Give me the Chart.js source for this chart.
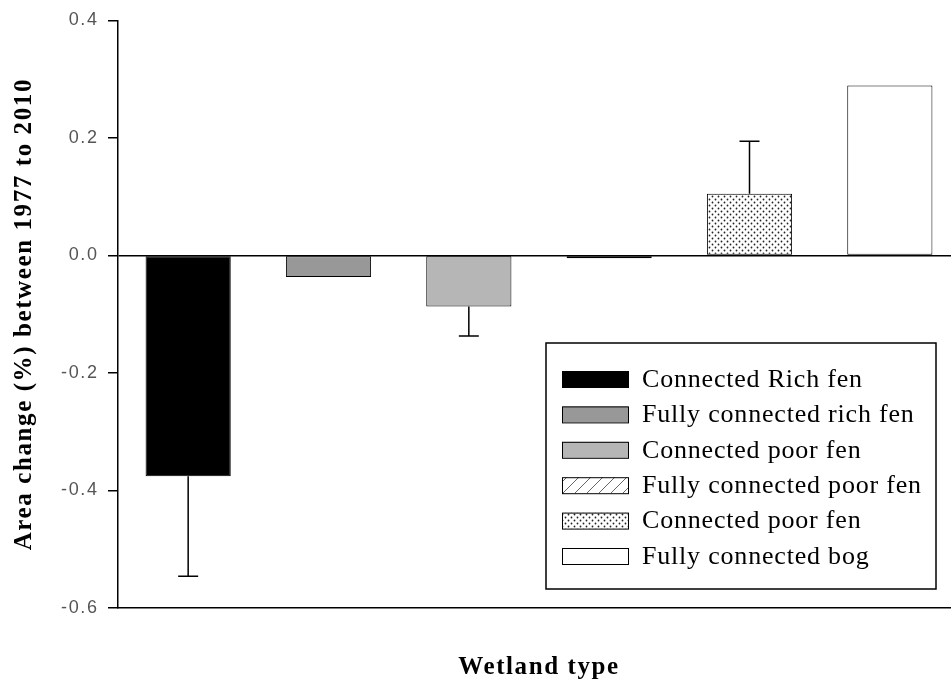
<!DOCTYPE html>
<html>
<head>
<meta charset="utf-8">
<script src="https://cdn.jsdelivr.net/npm/chart.js@4.4.0/dist/chart.umd.min.js"></script>
<style>
    html, body { margin: 0; padding: 0; background: #fff; overflow: hidden; }
    #wrap { width: 951px; height: 685px; overflow: hidden; position: relative; }
    #wrap canvas { position: absolute; left: 0; top: 0; }
</style>
</head>
<body>
<div id="wrap"><canvas id="wetlandChart" width="962" height="685"></canvas></div>
<script>
// data
const wetlandTypes = ['Connected Rich fen', 'Fully connected rich fen', 'Connected poor fen',
    'Fully connected poor fen', 'Connected poor fen', 'Fully connected bog'];
const areaChange = [-0.376, -0.037, -0.087, -0.005, 0.105, 0.289];
const areaError = [0.17, 0, 0.05, 0, 0.089, 0];
const yTicks = [-0.6, -0.4, -0.2, 0.0, 0.2, 0.4];

// fill patterns for the hatched and dotted bars
function makePattern(kind){
    var tile = document.createElement('canvas');
    var p = tile.getContext('2d');
    if(kind == 'hatch'){
        tile.width = 12; tile.height = 12;
        p.fillStyle = '#fff';
        p.fillRect(0, 0, 12, 12);
        p.strokeStyle = '#666';
        p.lineWidth = 1;
        p.beginPath();
        p.moveTo(0, 12); p.lineTo(12, 0);
        p.moveTo(-6, 6); p.lineTo(6, -6);
        p.moveTo(6, 18); p.lineTo(18, 6);
        p.stroke();
    }else{
        tile.width = 6; tile.height = 6;
        p.fillStyle = '#fff';
        p.fillRect(0, 0, 6, 6);
        p.fillStyle = '#222';
        p.beginPath();
        p.arc(1.5, 1.5, 0.9, 0, Math.PI*2);
        p.arc(4.5, 4.5, 0.9, 0, Math.PI*2);
        p.fill();
    }
    return document.createElement('canvas').getContext('2d').createPattern(tile, 'repeat');
}

const barFills = ['#000000', '#989898', '#b6b6b6', makePattern('hatch'), makePattern('dots'), '#ffffff'];

// one sided error bars, pointing away from zero
const errorBars = {
    id: 'errorBars',
    afterDatasetsDraw(chart){
        var ctx = chart.ctx;
        var yScale = chart.scales.y;
        var meta = chart.getDatasetMeta(0);
        ctx.save();
        ctx.strokeStyle = '#000';
        ctx.lineWidth = 1.5;
        meta.data.forEach((bar, i) => {
            var err = areaError[i];
            if(!err) return;
            var v = areaChange[i];
            var y0 = yScale.getPixelForValue(v);
            var y1 = yScale.getPixelForValue(v + Math.sign(v)*err);
            ctx.beginPath();
            ctx.moveTo(bar.x, y0);
            ctx.lineTo(bar.x, y1);
            ctx.moveTo(bar.x - 10, y1);
            ctx.lineTo(bar.x + 10, y1);
            ctx.stroke();
        });
        ctx.restore();
    }
};

// legend box sitting inside the plot
const insideLegend = {
    id: 'insideLegend',
    afterDraw(chart, args, opts){
        var ctx = chart.ctx;
        var fills = chart.data.datasets[0].backgroundColor;
        ctx.save();
        ctx.letterSpacing = '0.8px';
        ctx.fillStyle = '#fff';
        ctx.fillRect(opts.x, opts.y, opts.w, opts.h);
        ctx.strokeStyle = '#000';
        ctx.lineWidth = 1.5;
        ctx.strokeRect(opts.x, opts.y, opts.w, opts.h);
        ctx.font = "26px 'Liberation Serif', 'Times New Roman', serif";
        ctx.textBaseline = 'middle';
        ctx.textAlign = 'left';
        chart.data.labels.forEach((name, i) => {
            var cy = opts.firstRow + i*opts.rowGap;
            ctx.fillStyle = fills[i];
            ctx.fillRect(opts.swatchX, cy - 8, opts.swatchW, 16);
            ctx.strokeStyle = '#000';
            ctx.lineWidth = 1;
            ctx.strokeRect(opts.swatchX + 0.5, cy - 7.5, opts.swatchW, 16);
            ctx.fillStyle = '#000';
            ctx.fillText(name, opts.textX, cy + 1);
        });
        ctx.restore();
    }
};

const spacing = {
    id: 'spacing',
    beforeUpdate(chart){ chart.ctx.letterSpacing = '1.6px'; },
    beforeDraw(chart){ chart.ctx.letterSpacing = '1.6px'; }
};

new Chart(document.getElementById('wetlandChart'), {
    type: 'bar',
    data: {
        labels: wetlandTypes,
        datasets: [{
            data: areaChange,
            backgroundColor: barFills,
            borderColor: '#000',
            borderWidth: 1,
            borderSkipped: false,
            barPercentage: 0.607,
            categoryPercentage: 1
        }]
    },
    options: {
        responsive: false,
        animation: false,
        layout: { padding: { top: 20, right: 2, bottom: 0, left: 0 } },
        plugins: {
            legend: { display: false },
            tooltip: { enabled: false },
            insideLegend: {
                x: 546, y: 343, w: 390, h: 246,
                firstRow: 379, rowGap: 35.4,
                swatchX: 562, swatchW: 66, textX: 642
            }
        },
        scales: {
            x: {
                grid: { display: false },
                border: { display: true, color: '#000', width: 1.5 },
                ticks: { display: false },
                afterFit(scale){ scale.height = 77; },
                title: {
                    display: true,
                    text: 'Wetland type',
                    color: '#000',
                    font: { family: "'Liberation Serif', 'Times New Roman', serif", size: 25, weight: 'bold' },
                    padding: { top: 0, bottom: 2 }
                }
            },
            y: {
                min: -0.6,
                max: 0.4,
                afterBuildTicks(scale){ scale.ticks = yTicks.map(v => ({ value: v })); },
                afterFit(scale){ scale.width = 118; },
                grid: {
                    color: c => c.tick && c.tick.value === 0 ? '#000' : 'rgba(0,0,0,0)',
                    lineWidth: 1.5,
                    tickColor: '#000',
                    tickLength: 10,
                    drawTicks: true
                },
                border: { display: true, color: '#000', width: 1.5 },
                ticks: {
                    padding: 9.5,
                    color: '#555',
                    font: { family: "'Liberation Sans', Arial, sans-serif", size: 18 },
                    callback: v => v.toFixed(1)
                },
                title: {
                    display: true,
                    text: 'Area change (%) between 1977 to 2010',
                    color: '#000',
                    font: { family: "'Liberation Serif', 'Times New Roman', serif", size: 25, weight: 'bold' },
                    padding: { top: 10, bottom: 0 }
                }
            }
        }
    },
    plugins: [spacing, errorBars, insideLegend]
});
</script>
</body>
</html>
